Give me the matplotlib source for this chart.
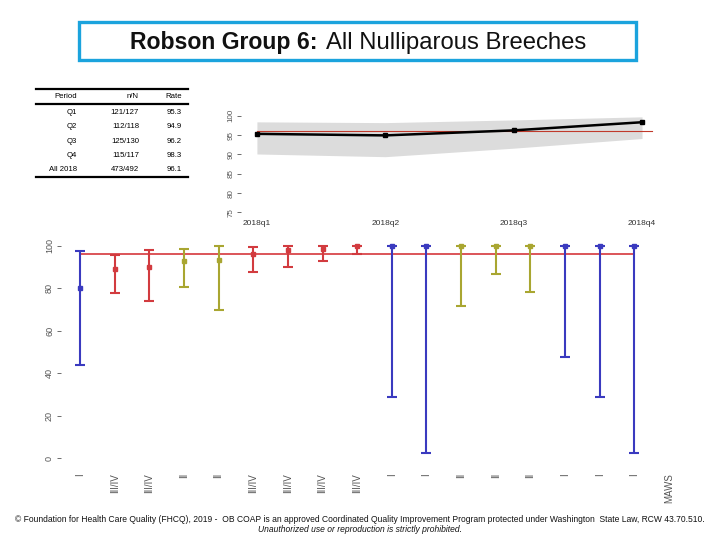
import matplotlib
matplotlib.use("Agg")
import matplotlib.pyplot as plt
from matplotlib.lines import Line2D
from matplotlib.patches import Rectangle

plt.rcParams["font.family"] = ["Liberation Sans", "DejaVu Sans"]

# -----------------------------------------------------------------------------
# Dados
# -----------------------------------------------------------------------------
# tabela resumo
periodos = ["Q1", "Q2", "Q3", "Q4", "All 2018"]
n_sobre_N = ["121/127", "112/118", "125/130", "115/117", "473/492"]
taxas_txt = ["95.3", "94.9", "96.2", "98.3", "96.1"]

# tendencia trimestral
trimestres = ["2018q1", "2018q2", "2018q3", "2018q4"]
taxa_trim = [95.3, 94.9, 96.2, 98.3]
ic_trim_inf = [90.1, 89.4, 91.6, 94.1]
ic_trim_sup = [98.4, 98.2, 98.9, 99.7]
taxa_geral = 96.1

# taxa por hospital (nivel de cuidado)
niveis = ["I", "III/IV", "III/IV", "II", "II", "III/IV", "III/IV", "III/IV",
          "III/IV", "I", "I", "II", "II", "II", "I", "I", "I", "MAWS"]
taxa_hosp = [80.0, 89.1, 90.1, 92.6, 93.4, 96.2, 98.1, 98.6, 99.8,
             100, 100, 100, 100, 100, 100, 100, 100]
ic_hosp_inf = [44.1, 77.5, 74.0, 80.4, 69.5, 87.6, 90.0, 92.5, 95.8,
               29.0, 2.5, 71.4, 86.5, 78.1, 47.7, 29.0, 2.5]
ic_hosp_sup = [97.3, 95.6, 97.8, 98.3, 99.7, 99.2, 99.7, 99.9, 100,
               100, 100, 100, 100, 100, 100, 100, 100]

cores_nivel = {"I": "#3a3abf", "II": "#a9a631", "III/IV": "#d23b3f"}
cor_cinza = "#555555"

W, H = 720, 540
fig = plt.figure(figsize=(W / 100, H / 100), dpi=100)


def fx(px):
    return px / W


def fy(py):
    return 1 - py / H


def eixo_px(esq, topo, dir, base):
    return fig.add_axes([fx(esq), fy(base), (dir - esq) / W, (base - topo) / H])


# -----------------------------------------------------------------------------
# Titulo com moldura
# -----------------------------------------------------------------------------
fig.add_artist(Rectangle((fx(79), fy(60)), (636 - 79) / W, 38 / H,
                         transform=fig.transFigure, fill=False,
                         edgecolor="#1ba3dd", linewidth=2.4))
fig.text(fx(317), fy(42.5), "Robson Group 6:", ha="right", va="center",
         fontsize=16.6, fontweight="bold", color="#111111")
fig.text(fx(326), fy(42.5), "All Nulliparous Breeches", ha="left", va="center",
         fontsize=17.2, color="#111111")

# -----------------------------------------------------------------------------
# Tabela resumo
# -----------------------------------------------------------------------------
x_esq, x_dir = 36, 188
for y_linha in (89, 104, 177):
    fig.add_artist(Line2D([fx(x_esq), fx(x_dir)], [fy(y_linha), fy(y_linha)],
                          transform=fig.transFigure, color="black", linewidth=1.6))

fs_tab = 5.6
fig.text(fx(77), fy(97), "Period", ha="right", va="center", fontsize=fs_tab)
fig.text(fx(139), fy(97), "n/N", ha="right", va="center", fontsize=fs_tab)
fig.text(fx(182), fy(97), "Rate", ha="right", va="center", fontsize=fs_tab)
for i, (p, nn, t) in enumerate(zip(periodos, n_sobre_N, taxas_txt)):
    y = 112.5 + i * 14.3
    fig.text(fx(77), fy(y), p, ha="right", va="center", fontsize=fs_tab)
    fig.text(fx(139), fy(y), nn, ha="right", va="center", fontsize=fs_tab)
    fig.text(fx(182), fy(y), t, ha="right", va="center", fontsize=fs_tab)

# -----------------------------------------------------------------------------
# Grafico de tendencia trimestral
# -----------------------------------------------------------------------------
ax1 = eixo_px(241, 108, 660, 214)
pos_trim = list(range(1, len(trimestres) + 1))
ax1.fill_between(pos_trim, ic_trim_inf, ic_trim_sup, color="#dcdcdc",
                 linewidth=0)
ax1.plot([pos_trim[0], pos_trim[-1] + 0.08], [taxa_geral, taxa_geral],
         color="#c0392b", linewidth=0.8)
ax1.plot(pos_trim, taxa_trim, color="black", linewidth=1.8, marker="s",
         markersize=3.5)
ax1.set_xlim(0.876, 4.14)
ax1.set_ylim(74.59, 101.98)
ax1.set_yticks([75, 80, 85, 90, 95, 100])
ax1.set_xticks(pos_trim)
ax1.set_xticklabels(trimestres)
ax1.tick_params(axis="y", length=3, width=0.6, pad=1.5, labelsize=5.8,
                colors=cor_cinza, labelrotation=90)
ax1.tick_params(axis="x", length=0, pad=4, labelsize=6, colors="#333333")
for lbl in ax1.get_yticklabels():
    lbl.set_va("center")
for s in ax1.spines.values():
    s.set_visible(False)

# -----------------------------------------------------------------------------
# Grafico por hospital (taxa e IC 95%)
# -----------------------------------------------------------------------------
ax2 = eixo_px(61, 237, 688, 467)
pos_hosp = list(range(1, len(taxa_hosp) + 1))
ax2.plot([pos_hosp[0], pos_hosp[-1]], [taxa_geral, taxa_geral],
         color="#d9474b", linewidth=1.3, zorder=1)
for x, taxa, inf, sup, nivel in zip(pos_hosp, taxa_hosp, ic_hosp_inf,
                                    ic_hosp_sup, niveis):
    cor = cores_nivel[nivel]
    ax2.errorbar(x, taxa, yerr=[[taxa - inf], [sup - taxa]], fmt="s",
                 color=cor, ecolor=cor, elinewidth=1.5, capsize=3.8,
                 capthick=1.5, markersize=3, zorder=2)

ax2.set_xlim(0.45, 18.55)
ax2.set_ylim(-4, 104)
ax2.set_yticks([0, 20, 40, 60, 80, 100])
ax2.set_xticks(range(1, len(niveis) + 1))
ax2.set_xticklabels(niveis, rotation=90, va="top")
ax2.tick_params(axis="y", length=3, width=0.6, pad=2, labelsize=6.5,
                colors=cor_cinza, labelrotation=90)
ax2.tick_params(axis="x", length=0, pad=4.5, labelsize=7, colors=cor_cinza)
for lbl in ax2.get_yticklabels():
    lbl.set_va("center")
for s in ax2.spines.values():
    s.set_visible(False)

# -----------------------------------------------------------------------------
# Rodape
# -----------------------------------------------------------------------------
fig.text(0.5, fy(519.5),
         "\u00a9 Foundation for Health Care Quality (FHCQ), 2019 -  OB COAP is an "
         "approved Coordinated Quality Improvement Program protected under "
         "Washington  State Law, RCW 43.70.510.",
         ha="center", va="center", fontsize=6.15, color="#111111")
fig.text(0.5, fy(529.5),
         "Unauthorized use or reproduction is strictly prohibited.",
         ha="center", va="center", fontsize=6.15, style="italic",
         color="#111111")

fig.savefig("out.png", dpi=100)
